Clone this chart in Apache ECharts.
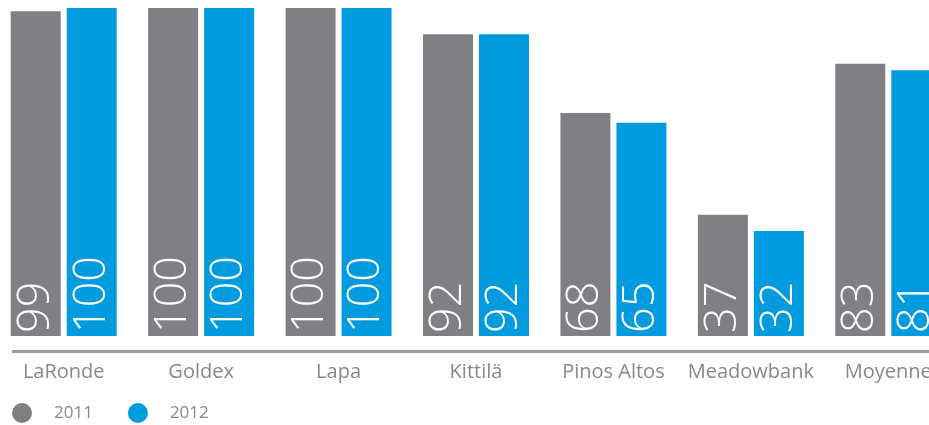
<!DOCTYPE html>
<html><head><meta charset="utf-8">
<script src="https://cdn.jsdelivr.net/npm/echarts@6/dist/echarts.min.js"></script>
<style>html,body{margin:0;padding:0;background:#fff}#c{width:929px;height:425px}</style>
</head><body><div id="c"></div>
<script>
const categories = ['LaRonde','Goldex','Lapa','Kittilä','Pinos Altos','Meadowbank','Moyenne'];
const values2011 = [99,100,100,92,68,37,83];
const values2012 = [100,100,100,92,65,32,81];
const seriesNames = ['2011','2012'];

const chart = echarts.init(document.getElementById('c'));
const barLabel = {
  show: true, position: 'insideBottom', rotate: 90, align: 'left', verticalAlign: 'middle',
  distance: 3, color: '#fff', fontSize: 45, fontWeight: 300, fontFamily: 'Open Sans'
};
chart.setOption({
  animation: false,
  grid: { left: -5, width: 962, top: 8, bottom: 89, outerBoundsMode: 'none', containLabel: false },
  xAxis: {
    type: 'category', data: categories,
    axisLine: { show: false }, axisTick: { show: false },
    axisLabel: { margin: 26, color: '#88888b', fontSize: 20, fontFamily: 'Open Sans', interval: 0 }
  },
  yAxis: { type: 'value', min: 0, max: 100, show: false, splitLine: { show: false } },
  legend: {
    left: 12, top: 403, padding: 0, icon: 'circle', itemWidth: 20, itemHeight: 20, itemGap: 35,
    textStyle: { color: '#88888b', fontSize: 17, fontFamily: 'Open Sans', padding: [0,0,0,17] },
    data: seriesNames
  },
  graphic: [{
    type: 'line', silent: true,
    shape: { x1: 12, y1: 351.5, x2: 929, y2: 351.5 },
    style: { stroke: '#9b9b9d', lineWidth: 3 }
  }],
  series: [
    { name: seriesNames[0], type: 'bar', data: values2011, barWidth: 50, barGap: '12%',
      itemStyle: { color: '#807f84' }, label: barLabel },
    { name: seriesNames[1], type: 'bar', data: values2012, barWidth: 50,
      itemStyle: { color: '#009ade' }, label: barLabel }
  ]
});
</script></body></html>
